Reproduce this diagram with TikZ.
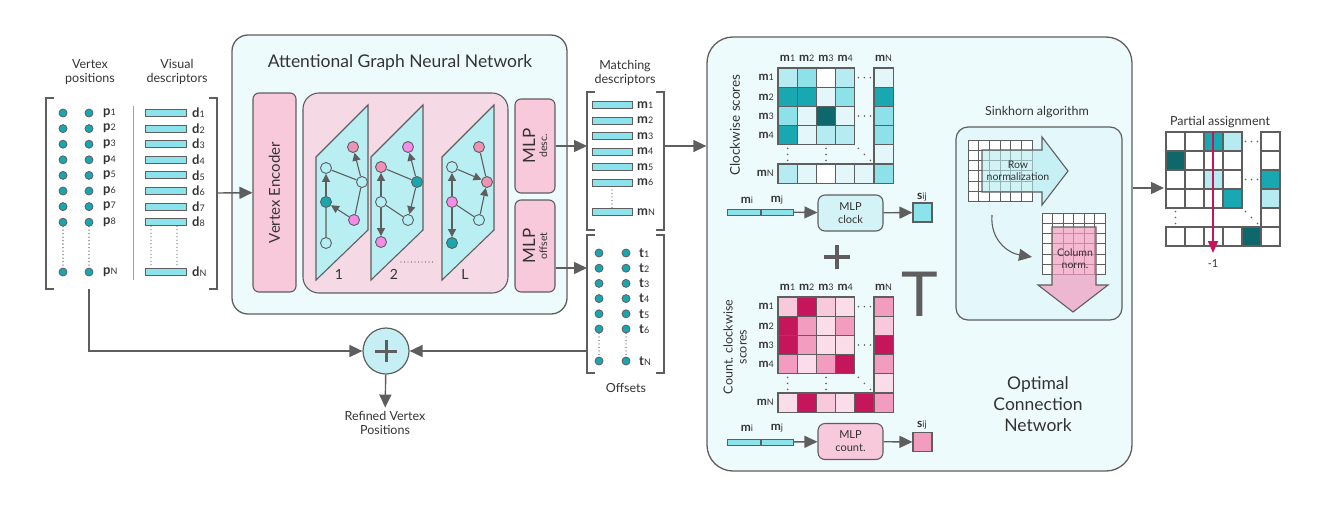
\documentclass[tikz,border=0pt]{standalone}
\usepackage{fontspec}
\setmainfont{Lato}
\usetikzlibrary{arrows.meta}
\definecolor{edgegray}{HTML}{5E5E5E}
\definecolor{txtgray}{HTML}{333333}
\definecolor{panelcyan}{HTML}{EEFBFC}
\definecolor{barcyan}{HTML}{8DE3EC}
\definecolor{dotteal}{HTML}{1AA6AF}
\definecolor{encpink}{HTML}{F7C9DB}
\definecolor{layerpink}{HTML}{F5DAE6}
\definecolor{planecyan}{HTML}{B9EEF3}
\definecolor{nodecyan}{HTML}{B4EFF5}
\definecolor{nodepink}{HTML}{EE93B6}
\definecolor{nodemag}{HTML}{F48CE8}
\definecolor{cB}{HTML}{E3F7FA}
\definecolor{cC}{HTML}{B5EBF1}
\definecolor{cD}{HTML}{8DE2EA}
\definecolor{cE}{HTML}{19A8B1}
\definecolor{cF}{HTML}{0E676B}
\definecolor{pA}{HTML}{FADDE8}
\definecolor{pB}{HTML}{F8C8DB}
\definecolor{pC}{HTML}{F29CC0}
\definecolor{pD}{HTML}{C6165B}
\definecolor{mlpcyan}{HTML}{D3F3F7}
\definecolor{sinkcyan}{HTML}{E4F8FB}
\definecolor{pluscyan}{HTML}{C6EFF5}
\newcommand{\vlab}[2]{\textbf{#1}{\fontsize{9}{9}\selectfont #2}}
\begin{document}
\begin{tikzpicture}[x=1pt,y=-1pt,
  arr/.style={draw=edgegray,line width=1.4pt,-{Triangle[length=13pt,width=12pt]}},
  garr/.style={draw=edgegray,line width=1.1pt,-{Triangle[length=8pt,width=8pt]}},
  gline/.style={draw=edgegray,line width=1.1pt},
  brk/.style={draw=edgegray,line width=1.3pt},
  dotline/.style={draw=edgegray,line width=1.3pt,line cap=round,dash pattern=on 0pt off 3.5pt},
  txt/.style={text=txtgray,font=\fontsize{12.5}{14.5}\selectfont,align=center},
  lab/.style={text=txtgray,font=\fontsize{13}{13}\selectfont,anchor=west,inner sep=1pt},
  mlab/.style={text=txtgray,font=\fontsize{12}{12}\selectfont,inner sep=1pt},
  vdot/.style={circle,fill=dotteal,draw=edgegray,line width=0.8pt,minimum size=8pt,inner sep=0pt},
  descbar/.style={rectangle,fill=barcyan,draw=edgegray,line width=1pt,minimum height=7pt,inner sep=0pt},
  gnode/.style={circle,draw=edgegray,line width=0.9pt,minimum size=11pt,inner sep=0pt},
  pinkbox/.style={rectangle,rounded corners=6pt,fill=encpink,draw=edgegray,line width=1.1pt,inner sep=0pt},
  rottxt/.style={rotate=90,text=txtgray,align=center},
  panel/.style={rectangle,fill=panelcyan,draw=edgegray,line width=1.3pt},
  cell/.style={draw=edgegray,line width=1.2pt},
  sgrid/.style={draw=edgegray,line width=1pt},
  mlpbox/.style={rectangle,rounded corners=7pt,draw=edgegray,line width=1.1pt,minimum width=65pt,minimum height=36pt,align=center,text=txtgray,font=\fontsize{11}{13}\selectfont},
  sbox/.style={rectangle,draw=edgegray,line width=1.1pt,minimum size=19pt,inner sep=0pt}]
\useasboundingbox (0,0) rectangle (1327,504);

% inputs
\node[txt] (vpos) at (90,72) {Vertex\\positions};
\node[txt] (vdesc) at (177,72) {Visual\\descriptors};
\draw[brk] (54,98) -- (46,98) -- (46,289) -- (54,289);
\draw[brk] (209,98) -- (217,98) -- (217,289) -- (209,289);
\draw[edgegray!60,line width=1pt] (133,106) -- (133,280);
\foreach \n in {1,...,8}{
  \node[vdot] (pl\n) at (63,{97.4+15.6*\n}) {};
  \node[vdot] (pr\n) at (89,{97.4+15.6*\n}) {};
  \node[lab] (p\n) at (102,{97.4+15.6*\n}) {\vlab{p}{\n}};
  \node[descbar,minimum width=41pt] (d\n) at (165.5,{97.4+15.6*\n}) {};
  \node[lab] (dl\n) at (191,{97.4+15.6*\n}) {\vlab{d}{\n}};
}
\node[vdot] (plN) at (63,272) {};
\node[vdot] (prN) at (89,272) {};
\node[lab] (pN) at (102,272) {\vlab{p}{N}};
\node[descbar,minimum width=41pt] (dN) at (165.5,272) {};
\node[lab] (dlN) at (191,272) {\vlab{d}{N}};
\draw[dotline] (pl8.south) -- (plN.north);
\draw[dotline] (pr8.south) -- (prN.north);
\draw[dotline] ([xshift=-14.5pt]d8.south) -- ([xshift=-14.5pt]dN.north);
\draw[dotline] ([xshift=11.5pt]d8.south) -- ([xshift=11.5pt]dN.north);

% attentional graph neural network
\node[panel,rounded corners=16pt,minimum width=335pt,minimum height=279pt] (gnn) at (399.5,174.5) {};
\node[text=txtgray,font=\fontsize{17.5}{17.5}\selectfont] (gnntitle) at (400,63) {Attentional Graph Neural Network};
\node[pinkbox,minimum width=43pt,minimum height=199pt] (venc) at (274.5,192.5) {};
\node[rottxt,font=\fontsize{15}{15}\selectfont] at (venc) {Vertex Encoder};
\node[rectangle,rounded corners=16pt,fill=layerpink,draw=edgegray,line width=1.1pt,minimum width=205pt,minimum height=200pt] (layers) at (405.5,193) {};
\foreach \x/\lb in {316/1,371/2,442/L}{
  \draw[fill=planecyan,draw=edgegray,line width=1.1pt] (\x,157) -- (\x+52,105) -- (\x+52,230) -- (\x,280) -- cycle;
  \node[text=txtgray,font=\fontsize{14}{14}\selectfont] at (\x+23,274) {\lb};
}
\draw[dotline,line width=1.1pt] (401,262) -- (434,262);
\foreach \nm/\x/\y/\col in {a1/353/147/nodepink, a2/326/168/nodecyan, a3/362/182/nodecyan,
    a4/326/202/dotteal, a5/354/220/nodemag, a6/326/243/nodecyan,
    b1/408/147/nodemag, b2/381/167/nodepink, b3/417/182/dotteal,
    b4/381/202/nodecyan, b5/408/220/nodecyan, b6/381/242/nodemag,
    c1/479/147/nodepink, c2/452/167/nodecyan, c3/487/182/nodepink,
    c4/452/202/nodemag, c5/479/220/nodecyan, c6/452/243/dotteal}
  \node[gnode,fill=\col] (\nm) at (\x,\y) {};
\draw[gline] (a6) -- (a4) (a2) -- (a3) (a3) -- (a5);
\draw[garr] (a4) -- (a2);
\draw[garr] (a5) -- (a4);
\draw[garr] (a3) -- (a1);
\draw[gline] (b2) -- (b3) (b4) -- (b5);
\draw[garr] (b4) -- (b2);
\draw[garr] (b3) -- (b1);
\draw[garr] (b3) -- (b5);
\draw[garr] (b4) -- (b6);
\draw[gline] (c1) -- (c3) (c4) -- (c5);
\draw[garr] (c2) -- (c3);
\draw[garr] (c5) -- (c3);
\draw[garr] (c4) -- (c2);
\draw[garr] (c4) -- (c6);
\node[pinkbox,minimum width=40pt,minimum height=94pt] (mlpd) at (535,146) {};
\node[rottxt] at (mlpd) {{\fontsize{17}{17}\selectfont MLP}\\{\fontsize{10.5}{11}\selectfont desc.}};
\node[pinkbox,minimum width=40pt,minimum height=92pt] (mlpo) at (535,246) {};
\node[rottxt] at (mlpo) {{\fontsize{17}{17}\selectfont MLP}\\{\fontsize{10.5}{11}\selectfont offset}};
\coordinate (vin) at (217,193);
\draw[arr] (vin) -- (venc);

% matching descriptors and offsets
\node[txt] (mdtitle) at (625,73) {Matching\\descriptors};
\draw[brk] (595,92) -- (587,92) -- (587,230) -- (595,230);
\draw[brk] (656,92) -- (664,92) -- (664,230) -- (656,230);
\foreach \n in {1,...,6}{
  \node[descbar,minimum width=40pt] (m\n) at (612,{89.5+15.5*\n}) {};
  \node[lab] (ml\n) at (636,{89.5+15.5*\n}) {\vlab{m}{\n}};
}
\node[descbar,minimum width=40pt] (mN) at (612,212) {};
\node[lab] (mlN) at (636,212) {\vlab{m}{N}};
\draw[dotline] (m6.south) -- (mN.north);
\draw[brk] (595,235) -- (587,235) -- (587,373) -- (595,373);
\draw[brk] (656,235) -- (664,235) -- (664,373) -- (656,373);
\foreach \n in {1,...,6}{
  \node[vdot] (tl\n) at (599,{237.8+15.2*\n}) {};
  \node[vdot] (tr\n) at (626,{237.8+15.2*\n}) {};
  \node[lab] (t\n) at (638,{237.8+15.2*\n}) {\vlab{t}{\n}};
}
\node[vdot] (tlN) at (599,361) {};
\node[vdot] (trN) at (626,361) {};
\node[lab] (tN) at (638,361) {\vlab{t}{N}};
\draw[dotline] (tl6.south) -- (tlN.north);
\draw[dotline] (tr6.south) -- (trN.north);
\node[txt] (offs) at (626,388) {Offsets};
\coordinate (mleft) at (587,146);
\coordinate (tleft) at (587,268);
\draw[arr] (mlpd.east |- mleft) -- (mleft);
\draw[arr] (mlpo.east |- tleft) -- (tleft);

% refinement
\coordinate (vbot) at (89,289);
\coordinate (tbot) at (587,351);
\node[circle,draw=edgegray,fill=pluscyan,line width=1.2pt,minimum size=46pt] (plus) at (386,351) {};
\draw[edgegray,line width=3pt] ([xshift=-11pt]plus.center) -- ([xshift=11pt]plus.center);
\draw[edgegray,line width=3pt] ([yshift=-11pt]plus.center) -- ([yshift=11pt]plus.center);
\node[txt] (refined) at (385,423) {Refined Vertex\\Positions};
\draw[arr] (vbot) |- (plus);
\draw[arr] (tbot) -- (plus);
\draw[arr] (plus) -- (refined);

% optimal connection network
\node[panel,rounded corners=26pt,minimum width=425pt,minimum height=434pt] (onn) at (919.5,254) {};
\coordinate (mright) at (664,146);
\draw[arr] (mright) -- (onn.west |- mright);
\node[text=txtgray,font=\fontsize{17.5}{21}\selectfont,align=center] (onntitle) at (1038,404) {Optimal\\Connection\\Network};

% clockwise scores
\begin{scope}[shift={(778,68)}]
  \foreach \rw [count=\rj from 0] in {{cC,cD,white,cC},{cE,cE,cB,cD},{cD,cB,cF,cB},{cE,cB,cC,cC}}
    \foreach \cl [count=\ci from 0] in \rw
      \draw[cell,fill=\cl] (\ci*19.2,\rj*19.2) rectangle ++(19.2,19.2);
  \foreach \cl [count=\rj from 0] in {cB,cE,cD,cD,cB}
    \draw[cell,fill=\cl] (96,\rj*19.2) rectangle ++(19.2,19.2);
  \foreach \cl [count=\ci from 0] in {cC,cB,white,cB,cB,cD}
    \draw[cell,fill=\cl] (\ci*19.2,96) rectangle ++(19.2,19.2);
  \foreach \n in {1,...,4}{
    \node[mlab] at ({\n*19.2-9.6},-10) {\vlab{m}{\n}};
    \node[mlab,anchor=east] at (-3,{\n*19.2-9.6}) {\vlab{m}{\n}};
  }
  \node[mlab] at (105.6,-10) {\vlab{m}{N}};
  \node[mlab,anchor=east] at (-3,105.6) {\vlab{m}{N}};
  \foreach \dd in {-6,0,6}{
    \fill[edgegray] (86.4+\dd,9.6) circle (0.9);
    \fill[edgegray] (86.4+\dd,48) circle (0.9);
    \fill[edgegray] (9.6,86.4+\dd) circle (0.9);
    \fill[edgegray] (48,86.4+\dd) circle (0.9);
    \fill[edgegray] (86.4+\dd,86.4+\dd) circle (0.9);
  }
  \node[rottxt,font=\fontsize{13.5}{13.5}\selectfont] at (-43,57) {Clockwise scores};
\end{scope}
\node[descbar,minimum width=33pt,minimum height=6pt] (mi1) at (743.5,212) {};
\node[descbar,minimum width=32pt,minimum height=6pt] (mj1) at (777.5,212) {};
\node[mlab] at (747,200) {\vlab{m}{i}};
\node[mlab] at (777,200) {\vlab{m}{j}};
\node[mlpbox,fill=mlpcyan] (mlpc) at (850.5,213) {MLP\\clock};
\node[sbox,fill=barcyan] (sc) at (922.5,212.5) {};
\node[mlab] at (922,197) {\vlab{s}{ij}};
\draw[arr] (mj1) -- (mlpc);
\draw[arr] (mlpc) -- (sc);

% combination
\draw[edgegray,line width=3.5pt] (824,257) -- (850,257);
\draw[edgegray,line width=3.5pt] (837,245) -- (837,269);
\node[text=edgegray,font=\fontsize{62}{62}\selectfont] (transp) at (920,294) {T};

% count clockwise scores
\begin{scope}[shift={(778,297)}]
  \foreach \rw [count=\rj from 0] in {{pB,pD,pB,pA},{pD,pC,pA,pC},{pD,pC,pA,pA},{pC,pA,pC,pD}}
    \foreach \cl [count=\ci from 0] in \rw
      \draw[cell,fill=\cl] (\ci*19.2,\rj*19.2) rectangle ++(19.2,19.2);
  \foreach \cl [count=\rj from 0] in {pC,pB,pD,pC,pA}
    \draw[cell,fill=\cl] (96,\rj*19.2) rectangle ++(19.2,19.2);
  \foreach \cl [count=\ci from 0] in {pA,pD,pB,pA,pD,pC}
    \draw[cell,fill=\cl] (\ci*19.2,96) rectangle ++(19.2,19.2);
  \foreach \n in {1,...,4}{
    \node[mlab] at ({\n*19.2-9.6},-10) {\vlab{m}{\n}};
    \node[mlab,anchor=east] at (-3,{\n*19.2-9.6}) {\vlab{m}{\n}};
  }
  \node[mlab] at (105.6,-10) {\vlab{m}{N}};
  \node[mlab,anchor=east] at (-3,105.6) {\vlab{m}{N}};
  \foreach \dd in {-6,0,6}{
    \fill[edgegray] (86.4+\dd,9.6) circle (0.9);
    \fill[edgegray] (86.4+\dd,48) circle (0.9);
    \fill[edgegray] (9.6,86.4+\dd) circle (0.9);
    \fill[edgegray] (48,86.4+\dd) circle (0.9);
    \fill[edgegray] (86.4+\dd,86.4+\dd) circle (0.9);
  }
  \node[rottxt,font=\fontsize{12.5}{14}\selectfont] at (-43,50) {Count. clockwise\\scores};
\end{scope}
\node[descbar,minimum width=33pt,minimum height=6pt] (mi2) at (743.5,442) {};
\node[descbar,minimum width=32pt,minimum height=6pt] (mj2) at (777.5,442) {};
\node[mlab] at (747,428) {\vlab{m}{i}};
\node[mlab] at (777,428) {\vlab{m}{j}};
\node[mlpbox,fill=pB] (mlpn) at (850.5,441.5) {MLP\\count.};
\node[sbox,fill=pC] (sn) at (922.5,442) {};
\node[mlab] at (922,425) {\vlab{s}{ij}};
\draw[arr] (mj2) -- (mlpn);
\draw[arr] (mlpn) -- (sn);

% sinkhorn
\node[txt] (sinktitle) at (1037,112) {Sinkhorn algorithm};
\node[rectangle,rounded corners=12pt,fill=sinkcyan,draw=edgegray,line width=1.2pt,minimum width=166pt,minimum height=193pt] (sink) at (1039,223.5) {};
\fill[white] (968,140) rectangle (1032,202);
\foreach \n in {0,...,6}{
  \draw[sgrid] (968+\n*10.67,140) -- ++(0,62);
  \draw[sgrid] (968,140+\n*10.33) -- ++(64,0);
}
\draw[fill=cC,fill opacity=0.6,draw=edgegray,line width=1.1pt] (982,150) -- (1042,150) -- (1042,137) -- (1068,171) -- (1042,205) -- (1042,192) -- (982,192) -- cycle;
\node[text=txtgray,font=\fontsize{10.5}{12}\selectfont,align=center] (rownorm) at (1018,171) {Row\\normalization};
\fill[white] (1042,213) rectangle (1105,275);
\foreach \n in {0,...,6}{
  \draw[sgrid] (1042+\n*10.5,213) -- ++(0,62);
  \draw[sgrid] (1042,213+\n*10.33) -- ++(63,0);
}
\draw[fill=pC,fill opacity=0.7,draw=edgegray,line width=1.1pt] (1052,227) -- (1096,227) -- (1096,285) -- (1108,285) -- (1073,312) -- (1038,285) -- (1052,285) -- cycle;
\node[text=txtgray,font=\fontsize{10.5}{12}\selectfont,align=center] (colnorm) at (1075,259) {Column\\norm.};
\coordinate (rowout) at (992,215);
\coordinate (colin) at (1032,257);
\draw[arr,line width=1.1pt] (rowout) .. controls (990,240) and (1008,253) .. (colin);

% partial assignment
\coordinate (pin) at (1164,188);
\draw[arr] (onn.east |- pin) -- (pin);
\node[txt] (pattitle) at (1220,122) {Partial assignment};
\begin{scope}[shift={(1166,132)}]
  \foreach \rw [count=\rj from 0] in {{white,white,cE,cC},{cF,white,white,white},{white,white,cC,white},{white,white,white,cE}}
    \foreach \cl [count=\ci from 0] in \rw
      \draw[cell,fill=\cl] (\ci*19,\rj*19) rectangle ++(19,19);
  \foreach \cl [count=\rj from 0] in {white,white,cE,cC,white}
    \draw[cell,fill=\cl] (95,\rj*19) rectangle ++(19,19);
  \foreach \cl [count=\ci from 0] in {white,white,white,white,cF,white}
    \draw[cell,fill=\cl] (\ci*19,95) rectangle ++(19,19);
  \foreach \dd in {-6,0,6}{
    \fill[edgegray] (85.5+\dd,9.5) circle (0.9);
    \fill[edgegray] (85.5+\dd,47.5) circle (0.9);
    \fill[edgegray] (9.5,85.5+\dd) circle (0.9);
    \fill[edgegray] (85.5+\dd,85.5+\dd) circle (0.9);
  }
\end{scope}
\coordinate (pcol) at (1213,132);
\coordinate (pend) at (1213,253);
\draw[pD,line width=1.6pt,-{Triangle[length=12pt,width=10pt]}] (pcol) -- (pend);
\node[text=txtgray,font=\fontsize{11}{11}\selectfont] (dustbin) at (1213,264) {-1};
\end{tikzpicture}
\end{document}
